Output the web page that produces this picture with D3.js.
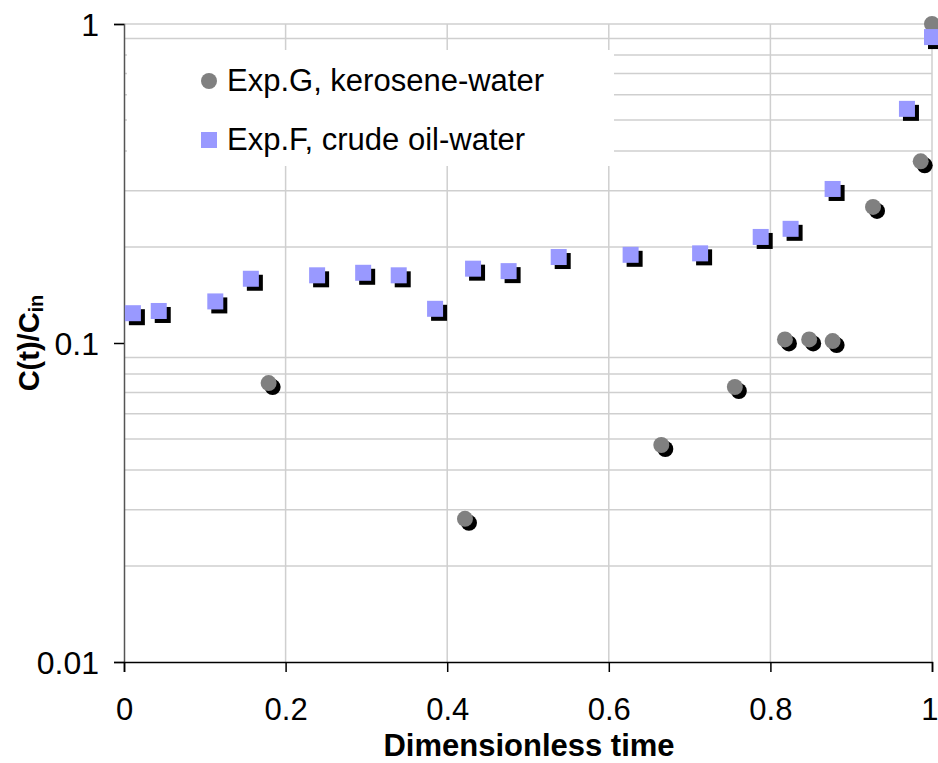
<!DOCTYPE html>
<html>
<head>
<meta charset="utf-8">
<script src="https://cdn.jsdelivr.net/npm/d3@7"></script>
<style>
  html, body { margin: 0; padding: 0; background: #fff; }
  svg { display: block; font-family: Arial, "Liberation Sans", sans-serif; }
</style>
</head>
<body>
<svg id="chart" width="938" height="763"></svg>
<script>
// Exp.G, kerosene-water (circles)
const expG_x = [0.179, 0.422, 0.665, 0.756, 0.818, 0.848, 0.877, 0.927, 0.986, 1.0];
const expG_y = [0.0749, 0.0281, 0.0479, 0.0728, 0.1026, 0.1026, 0.1014, 0.267, 0.371, 1.0];
// Exp.F, crude oil-water (squares)
const expF_x = [0.011, 0.043, 0.113, 0.157, 0.239, 0.296, 0.340, 0.385, 0.432, 0.476, 0.538, 0.627, 0.713, 0.788, 0.825, 0.877, 0.969, 1.0];
const expF_y = [0.124, 0.126, 0.135, 0.159, 0.163, 0.166, 0.163, 0.128, 0.171, 0.168, 0.186, 0.189, 0.191, 0.215, 0.228, 0.304, 0.542, 0.91];
const xTicks = [0, 0.2, 0.4, 0.6, 0.8, 1];
const xTickLabels = ["0", "0.2", "0.4", "0.6", "0.8", "1"];
const yTicks = [0.01, 0.1, 1];
const yTickLabels = ["0.01", "0.1", "1"];
const seriesNames = ["Exp.G, kerosene-water", "Exp.F, crude oil-water"];

const FONT = "Arial, 'Liberation Sans', sans-serif";
const svg = d3.select("#chart");
const x = d3.scaleLinear().domain([0, 1]).range([124, 932]);
const y = d3.scaleLog().domain([0.01, 1]).range([662, 24]);

// minor log grid values
const minorY = [];
[0.01, 0.1].forEach(d => { for (let k = 2; k <= 9; k++) minorY.push(+(d * k).toFixed(3)); });

const grid = svg.append("g");
grid.selectAll("line.hm").data(minorY.concat([1])).join("line")
  .attr("x1", x(0)).attr("x2", x(1))
  .attr("y1", d => y(d)).attr("y2", d => y(d))
  .attr("stroke", "#cfcfcf").attr("stroke-width", 1.5);
grid.selectAll("line.v").data(xTicks.slice(1)).join("line")
  .attr("x1", d => x(d)).attr("x2", d => x(d))
  .attr("y1", y(1)).attr("y2", y(0.01))
  .attr("stroke", "#cfcfcf").attr("stroke-width", 1.5);

// legend background
svg.append("rect").attr("x", 127).attr("y", 50).attr("width", 487).attr("height", 116).attr("fill", "#fff");

// axes
const yAxis = d3.axisLeft(y).tickValues(yTicks).tickFormat((d, i) => yTickLabels[i]).tickSize(10).tickPadding(15);
const gy = svg.append("g").attr("transform", `translate(${x(0)},0)`).call(yAxis);
gy.select(".domain").attr("stroke", "#555").attr("stroke-width", 1.5);
gy.selectAll(".tick line").attr("stroke", "#000").attr("stroke-width", 1.5);
gy.selectAll(".tick text").attr("font-size", 32).attr("fill", "#000").attr("font-family", FONT).attr("dy", "0.36em");

const xAxis = d3.axisBottom(x).tickValues(xTicks).tickFormat((d, i) => xTickLabels[i]).tickSize(10).tickPadding(26);
const gx = svg.append("g").attr("transform", `translate(0,${y(0.01)})`).call(xAxis);
gx.select(".domain").attr("stroke", "#000").attr("stroke-width", 1.5);
gx.selectAll(".tick line").attr("stroke", "#000").attr("stroke-width", 1.5);
gx.selectAll(".tick text").attr("font-size", 31).attr("fill", "#000").attr("font-family", FONT).attr("dy", "0.72em");
gx.selectAll(".tick text").filter((d, i) => i === xTicks.length - 1)
  .attr("text-anchor", "end").attr("x", 938 - x(1));

// axis titles
svg.append("text").attr("x", 529).attr("y", 756).attr("text-anchor", "middle")
  .attr("font-size", 31).attr("font-weight", "bold").text("Dimensionless time");
const yt = svg.append("text").attr("transform", "translate(39,343) rotate(-90)")
  .attr("text-anchor", "middle").attr("font-size", 29).attr("font-weight", "bold");
yt.append("tspan").text("C(t)/C");
yt.append("tspan").attr("font-size", 20).attr("dy", 4).text("in");

// data
const gData = expG_x.map((v, i) => ({ x: v, y: expG_y[i] }));
const fData = expF_x.map((v, i) => ({ x: v, y: expF_y[i] }));
const off = 4, half = 8;

const gG = svg.append("g");
gG.selectAll("circle.s").data(gData).join("circle")
  .attr("cx", d => x(d.x) + off).attr("cy", d => y(d.y) + off).attr("r", half).attr("fill", "#000");
gG.selectAll("circle.m").data(gData).join("circle")
  .attr("cx", d => x(d.x)).attr("cy", d => y(d.y)).attr("r", half).attr("fill", "#808080");

const gF = svg.append("g");
gF.selectAll("rect.s").data(fData).join("rect")
  .attr("x", d => x(d.x) - half + off).attr("y", d => y(d.y) - half + off)
  .attr("width", 2 * half).attr("height", 2 * half).attr("fill", "#000");
gF.selectAll("rect.m").data(fData).join("rect")
  .attr("x", d => x(d.x) - half).attr("y", d => y(d.y) - half)
  .attr("width", 2 * half).attr("height", 2 * half).attr("fill", "#9999ff");

// legend
const lg = svg.append("g");
lg.append("circle").attr("cx", 209).attr("cy", 81).attr("r", 8).attr("fill", "#808080");
lg.append("rect").attr("x", 201).attr("y", 132).attr("width", 16).attr("height", 16).attr("fill", "#9999ff");
lg.append("text").attr("x", 227).attr("y", 91).attr("font-size", 31).text(seriesNames[0]);
lg.append("text").attr("x", 227).attr("y", 150).attr("font-size", 31).text(seriesNames[1]);
</script>
</body>
</html>
